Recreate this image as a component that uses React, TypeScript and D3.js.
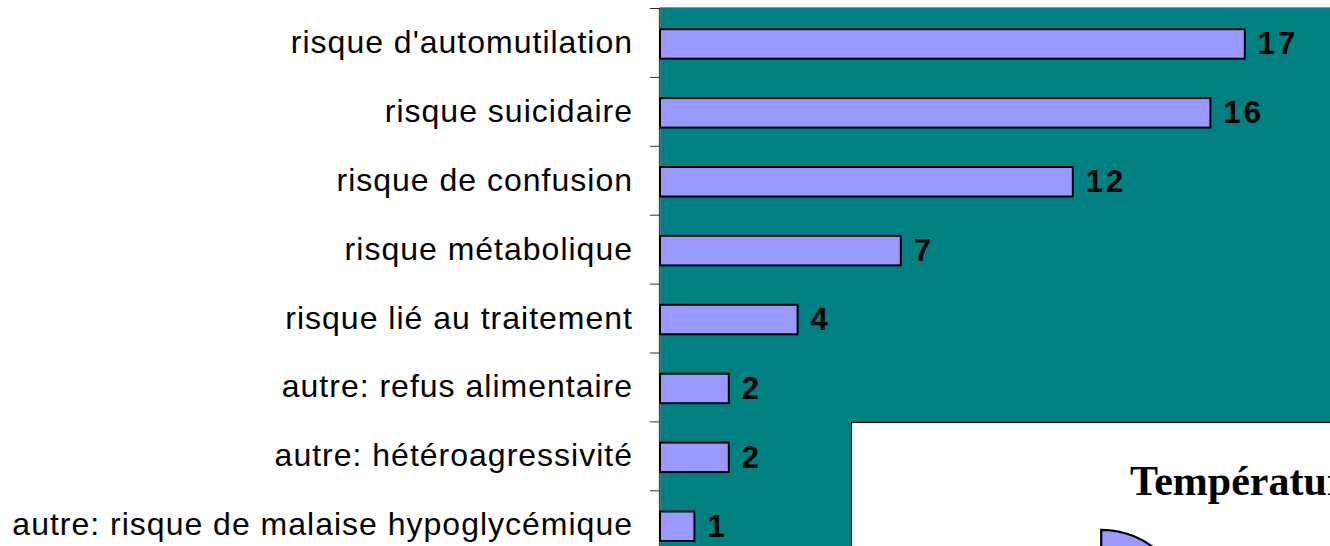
import React, { useEffect, useRef } from "react";
import * as d3 from "d3";

const categories: string[] = [
  "risque d'automutilation",
  "risque suicidaire",
  "risque de confusion",
  "risque métabolique",
  "risque lié au traitement",
  "autre: refus alimentaire",
  "autre: hétéroagressivité",
  "autre: risque de malaise hypoglycémique",
];
const values: number[] = [17, 16, 12, 7, 4, 2, 2, 1];
const xDomain: [number, number] = [0, 20];

const pieTitle = "Température";
const pieValues: number[] = [25, 75];

export default function App() {
  const ref = useRef<SVGSVGElement>(null);

  useEffect(() => {
    const svg = d3.select(ref.current);
    svg.selectAll("*").remove();
    const W = 1330;
    const H = 546;
    const left = 660;
    const top = 8;
    const band = 68.9;

    const x = d3.scaleLinear().domain(xDomain).range([left, left + 688]);
    const y = d3
      .scaleBand<string>()
      .domain(categories)
      .range([top, top + band * categories.length]);
    const bw = y.bandwidth();
    const bh = 29.5;

    svg.append("rect").attr("width", W).attr("height", H).attr("fill", "#ffffff");

    // plot area
    svg
      .append("rect")
      .attr("x", left)
      .attr("y", top - 0.5)
      .attr("width", 720)
      .attr("height", band * categories.length + 10)
      .attr("fill", "#008080")
      .attr("stroke", "#909090")
      .attr("stroke-width", 1);

    // axis line
    svg
      .append("line")
      .attr("x1", left - 0.5)
      .attr("x2", left - 0.5)
      .attr("y1", top)
      .attr("y2", H + 20)
      .attr("stroke", "#404040")
      .attr("stroke-width", 1.2);

    // ticks at band boundaries
    const tickPos = categories.map((c) => y(c) as number).concat([y.range()[1]]);
    svg
      .selectAll("line.tick")
      .data(tickPos)
      .enter()
      .append("line")
      .attr("class", "tick")
      .attr("x1", left - 10)
      .attr("x2", left)
      .attr("y1", (d) => d + 0.5)
      .attr("y2", (d) => d + 0.5)
      .attr("stroke", "#303030")
      .attr("stroke-width", 1);

    // category labels
    svg
      .selectAll("text.cat")
      .data(categories)
      .enter()
      .append("text")
      .attr("class", "cat")
      .attr("x", 633)
      .attr("y", (c) => (y(c) as number) + bw / 2 + 1.5 + 9)
      .attr("text-anchor", "end")
      .attr("font-family", "'Liberation Sans', Arial, sans-serif")
      .attr("font-size", 32)
      .attr("letter-spacing", 1)
      .attr("fill", "#000")
      .text((c) => c);

    // bars
    svg
      .selectAll("rect.bar")
      .data(categories)
      .enter()
      .append("rect")
      .attr("class", "bar")
      .attr("x", x(0))
      .attr("y", (c) => (y(c) as number) + (bw - bh) / 2 + 1.5)
      .attr("width", (c, i) => x(values[i]) - x(0))
      .attr("height", bh)
      .attr("fill", "#9999FF")
      .attr("stroke", "#000")
      .attr("stroke-width", 2);

    // value labels
    svg
      .selectAll("text.val")
      .data(categories)
      .enter()
      .append("text")
      .attr("class", "val")
      .attr("x", (c, i) => x(values[i]) + 13)
      .attr("y", (c) => (y(c) as number) + bw / 2 + 1.5 + 10.5)
      .attr("font-family", "'Liberation Sans', Arial, sans-serif")
      .attr("font-weight", "bold")
      .attr("font-size", 31)
      .attr("letter-spacing", 3)
      .attr("fill", "#000")
      .text((c, i) => String(values[i]));

    // embedded pie chart box
    const box = svg.append("g");
    box
      .append("rect")
      .attr("x", 851.5)
      .attr("y", 422.5)
      .attr("width", 600)
      .attr("height", 200)
      .attr("fill", "#ffffff")
      .attr("stroke", "#000")
      .attr("stroke-width", 1.2);
    box
      .append("text")
      .attr("x", 1130)
      .attr("y", 495)
      .attr("font-family", "'Liberation Serif', 'Times New Roman', serif")
      .attr("font-weight", "bold")
      .attr("font-size", 42)
      .attr("fill", "#000")
      .text(pieTitle);

    const pie = d3.pie<number>().sort(null)(pieValues);
    const r = 86;
    const arc = d3.arc<d3.PieArcDatum<number>>().innerRadius(0).outerRadius(r);
    const cx = 1080;
    const cy = 637;
    const explode = 30;
    const pieColors = ["#9999FF", "#993366"];
    box
      .selectAll("path.slice")
      .data(pie)
      .enter()
      .append("path")
      .attr("class", "slice")
      .attr("transform", (d, i) => {
        const mid = (d.startAngle + d.endAngle) / 2;
        const off = i === 0 ? explode : 0;
        return `translate(${cx + Math.sin(mid) * off},${cy - Math.cos(mid) * off})`;
      })
      .attr("d", arc as any)
      .attr("fill", (d, i) => pieColors[i])
      .attr("stroke", "#000")
      .attr("stroke-width", 2.2);
  }, []);

  return (
    <div style={{ position: "absolute", left: 0, top: 0 }}>
      <svg ref={ref} width={1330} height={546} style={{ display: "block" }} />
    </div>
  );
}
